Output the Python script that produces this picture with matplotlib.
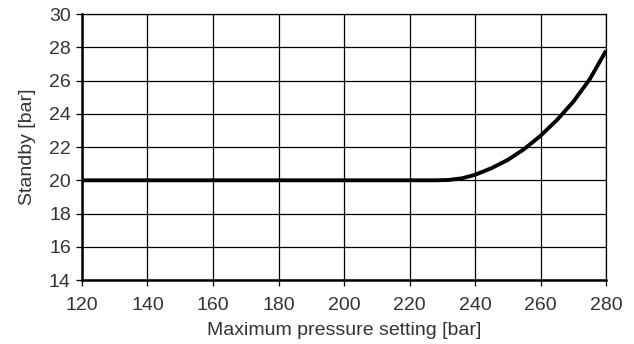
import matplotlib
matplotlib.use("Agg")
import matplotlib.pyplot as plt

plt.rcParams['font.family'] = ['Liberation Sans', 'DejaVu Sans']

pressure = [120, 228, 232, 236, 240, 245, 250, 255, 260, 265, 270, 275, 280]
standby = [20.0, 20.0, 20.02, 20.12, 20.33, 20.73, 21.23, 21.88, 22.68, 23.63, 24.73, 26.08, 27.8]
x_ticks = list(range(120, 281, 20))
y_ticks = list(range(14, 31, 2))

fig = plt.figure(figsize=(6.34, 3.44), dpi=100)
ax = fig.add_axes([0.1293, 0.186, 0.8267, 0.773])

ax.plot(pressure, standby, color='black', linewidth=2.8, solid_capstyle='butt',
        solid_joinstyle='round', zorder=3)

ax.set_xlim(120, 280)
ax.set_ylim(14, 30)
ax.set_xticks(x_ticks)
ax.set_yticks(y_ticks)
ax.grid(True, color='black', linewidth=0.9)
ax.set_axisbelow(True)

for side in ['top', 'right']:
    ax.spines[side].set_linewidth(0.9)
for side in ['left', 'bottom']:
    ax.spines[side].set_linewidth(1.8)

ax.tick_params(direction='out', length=4, width=0.9, labelsize=14, colors='black',
               labelcolor='#333333')
ax.tick_params(axis='x', pad=8)
ax.tick_params(axis='y', pad=4)
ax.set_xlabel('Maximum pressure setting [bar]', fontsize=14, color='#333333', labelpad=6)
ax.set_ylabel('Standby [bar]', fontsize=14, color='#333333', labelpad=9)

fig.savefig('out.png', dpi=100)
